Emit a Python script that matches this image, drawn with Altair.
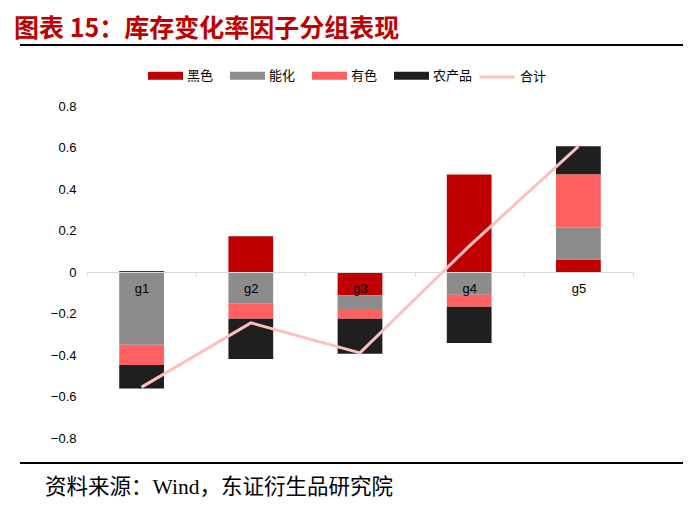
import altair as alt
import pandas as pd

groups = ["g1", "g2", "g3", "g4", "g5"]
components = ["黑色", "能化", "有色", "农产品"]
heise = [0.005, 0.172, -0.112, 0.47, 0.06]
nenghua = [-0.35, -0.15, -0.066, -0.11, 0.154]
youse = [-0.098, -0.075, -0.047, -0.057, 0.257]
nongchanpin = [-0.114, -0.194, -0.169, -0.175, 0.135]
total = [-0.555, -0.245, -0.39, 0.125, 0.605]
y_ticks = [-0.8, -0.6, -0.4, -0.2, 0.0, 0.2, 0.4, 0.6, 0.8]
colors = ["#C00000", "#8C8C8C", "#FF6161", "#1F1F1F"]
line_color = "#FFBFBF"

title_text = "图表 15：库存变化率因子分组表现"
footer_text = "资料来源：Wind，东证衍生品研究院"

rows = []
for i, g in enumerate(groups):
    for j, (c, vals) in enumerate(zip(components, [heise, nenghua, youse, nongchanpin])):
        rows.append({"group": g, "comp": c, "order": j, "value": vals[i]})
bars_df = pd.DataFrame(rows)
line_df = pd.DataFrame({"group": groups, "value": total, "name": ["合计"] * len(groups)})

W, H = 546, 332

x_enc = alt.X(
    "group:N",
    sort=groups,
    scale=alt.Scale(paddingInner=0, paddingOuter=0),
    axis=alt.Axis(
        title=None, labelAngle=0, offset=-H / 2, tickBand="extent",
        domainColor="#D9D9D9", tickColor="#D9D9D9", tickSize=4,
        labelPadding=6, labelFontSize=13, labelColor="#000000",
        labelFont="Liberation Sans", zindex=1,
    ),
)
y_scale = alt.Scale(domain=[-0.8, 0.8], nice=False, zero=False)

bars = alt.Chart(bars_df).mark_bar(width=alt.RelativeBandSize(0.41)).encode(
    x=x_enc,
    y=alt.Y(
        "value:Q", stack="zero", scale=y_scale,
        axis=alt.Axis(
            title=None, values=y_ticks, domain=False, ticks=False, grid=False,
            labelExpr="datum.value == 0 ? '0' : format(datum.value, '.1f')",
            labelPadding=11, labelFontSize=13, labelColor="#000000",
            labelFont="Liberation Sans",
        ),
    ),
    color=alt.Color(
        "comp:N",
        scale=alt.Scale(domain=components, range=colors),
        legend=alt.Legend(
            title=None, orient="none", direction="horizontal", columns=4,
            legendX=61, legendY=-48, symbolType="M-1,-0.23H1V0.23H-1Z",
            symbolSize=1225, symbolStrokeWidth=0, labelFontSize=13,
            labelFont="Noto Sans CJK SC", labelColor="#000000",
            labelOffset=4, columnPadding=16, padding=0,
        ),
    ),
    order=alt.Order("order:Q", sort="ascending"),
)

line = alt.Chart(line_df).mark_line(strokeWidth=3).encode(
    x=alt.X("group:N", sort=groups),
    y=alt.Y("value:Q", scale=y_scale),
    color=alt.Color(
        "name:N",
        scale=alt.Scale(domain=["合计"], range=[line_color]),
        legend=alt.Legend(
            title=None, orient="none", legendX=391, legendY=-48,
            symbolType="stroke", symbolSize=1225, symbolStrokeWidth=3,
            labelFontSize=13, labelFont="Noto Sans CJK SC",
            labelColor="#000000", labelOffset=4, padding=0,
        ),
    ),
)

one = alt.Data(values=[{"a": 1}])
title = alt.Chart(one).mark_text(
    text=title_text, align="left", baseline="alphabetic", fontSize=25,
    fontWeight="bold", font="Noto Sans CJK SC", color="#C00000",
).encode(x=alt.value(-73), y=alt.value(-69))
top_rule = alt.Chart(one).mark_rule(color="#000000", strokeWidth=2).encode(
    x=alt.value(-67), x2=alt.value(596), y=alt.value(-61)
)
bottom_rule = alt.Chart(one).mark_rule(color="#000000", strokeWidth=2).encode(
    x=alt.value(-67), x2=alt.value(596), y=alt.value(357)
)
footer = alt.Chart(one).mark_text(
    text=footer_text, align="left", baseline="alphabetic", fontSize=21.5,
    font="Liberation Serif, Noto Sans CJK SC", color="#000000",
).encode(x=alt.value(-42), y=alt.value(388))

chart = alt.layer(bars, line, title, top_rule, bottom_rule, footer).resolve_scale(
    color="independent"
).properties(
    width=W, height=H,
    autosize=alt.AutoSizeParams(type="none"),
    padding={"left": 79, "top": 98, "right": 59, "bottom": 70},
).configure_view(stroke=None)

chart.save("out.html", embed_options={"renderer": "svg", "actions": False})
